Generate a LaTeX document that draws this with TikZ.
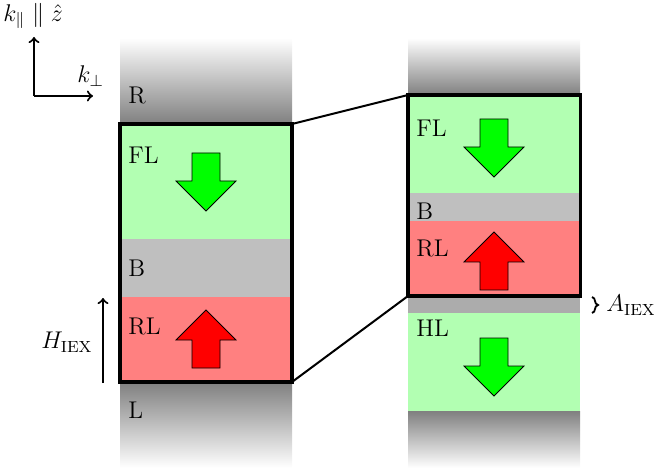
\documentclass[tikz,border=0pt]{standalone}
\usetikzlibrary{decorations.pathreplacing}
\begin{document}
\begin{tikzpicture}[x=0.4963pt,y=-0.4963pt,
  lbl/.style={anchor=west,inner sep=0pt,font=\large},
  outline/.style={draw=black,line width=1.5pt},
  conn/.style={line width=1pt},
  axis/.style={->,line width=1pt},
  arrowshape/.style={draw=black,line width=0.4pt},
  downarr/.pic={\draw[arrowshape,fill=green] (-14,0) -- (14,0) -- (14,28) -- (30,28) -- (0,58) -- (-30,28) -- (-14,28) -- cycle;},
  uparr/.pic={\draw[arrowshape,fill=red] (-14,0) -- (14,0) -- (14,-28) -- (30,-28) -- (0,-58) -- (-30,-28) -- (-14,-28) -- cycle;}]
\useasboundingbox (0,0) rectangle (654,470);

% axes
\coordinate (O) at (34,96);
\coordinate (kz) at (34,37);
\coordinate (kp) at (93,96);
\draw[axis] (O) -- (kz);
\draw[axis] (O) -- (kp);
\node[anchor=west,inner sep=0pt,font=\large] (kzl) at (3,16) {$k_\parallel \parallel \hat z$};
\node[anchor=west,inner sep=0pt,font=\large] (kpl) at (77,76) {$k_\perp$};

% left column
\shade[top color=white,bottom color=gray] (120,38) rectangle (292,124);
\fill[green!30] (120,124) rectangle (292,239);
\fill[gray!50] (120,239) rectangle (292,297);
\fill[red!50] (120,297) rectangle (292,382);
\shade[top color=gray,bottom color=white] (120,382) rectangle (292,468);
\coordinate (lTL) at (120,124);
\coordinate (lTR) at (292,124);
\coordinate (lBR) at (292,382);
\draw[outline] (lTL) rectangle (lBR);
\node[lbl] (lR) at (128,96) {R};
\node[lbl] (lFL) at (128,155) {FL};
\node[lbl] (lB) at (128,268) {B};
\node[lbl] (lRL) at (128,326) {RL};
\node[lbl] (lL) at (128,410) {L};
\pic at (206,153) {downarr};
\pic at (206,368) {uparr};

% H_IEX
\coordinate (h0) at (103,383);
\coordinate (h1) at (103,298);
\draw[axis] (h0) -- (h1);
\node[anchor=east,inner sep=0pt,font=\large] (hiex) at (93,342) {$H_{\mathrm{IEX}}$};

% right column
\shade[top color=white,bottom color=gray] (408,38) rectangle (580,95);
\fill[green!30] (408,95) rectangle (580,193);
\fill[gray!50] (408,193) rectangle (580,221);
\fill[red!50] (408,221) rectangle (580,296);
\fill[gray!65] (408,296) rectangle (580,313);
\fill[green!30] (408,313) rectangle (580,411);
\shade[top color=gray,bottom color=white] (408,411) rectangle (580,468);
\coordinate (rTL) at (408,95);
\coordinate (rBL) at (408,296);
\coordinate (rBR) at (580,296);
\draw[outline] (rTL) rectangle (rBR);
\node[lbl] (rFL) at (416,128) {FL};
\node[lbl] (rB) at (416,211) {B};
\node[lbl] (rRL) at (416,248) {RL};
\node[lbl] (rHL) at (416,328) {HL};
\pic at (494,119) {downarr};
\pic at (494,290) {uparr};
\pic at (494,338) {downarr};

% connectors
\draw[conn] (lTR) -- (rTL);
\draw[conn] (lBR) -- (rBL);

% A_IEX brace
\coordinate (b0) at (592,297);
\coordinate (b1) at (592,313);
\draw[decorate,decoration={brace,amplitude=3pt},line width=0.9pt] (b0) -- (b1);
\node[anchor=west,inner sep=0pt,font=\large] (aiex) at (606,305) {$A_{\mathrm{IEX}}$};
\end{tikzpicture}
\end{document}
